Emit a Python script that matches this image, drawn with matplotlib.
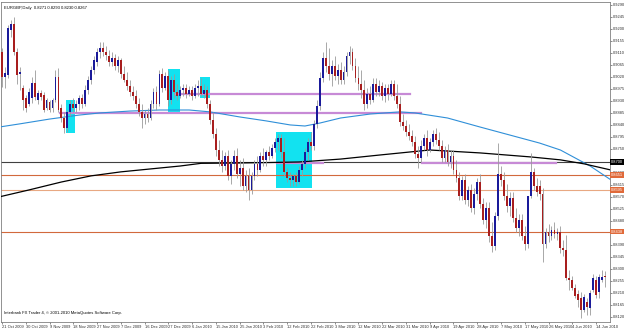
import matplotlib
matplotlib.use('Agg')
import matplotlib.pyplot as plt
import numpy as np

# EURGBP daily candles, 21 Oct 2009 .. 17 Jun 2010
opens = [
    0.9113, 0.9019, 0.9026, 0.9195, 0.9218, 0.9113, 0.9030, 0.8978, 0.8940, 0.8918,
    0.8940, 0.8996, 0.8933, 0.8959, 0.8951, 0.8903, 0.8925, 0.8903, 0.8933, 0.9019,
    0.8903, 0.8865, 0.8828, 0.8888, 0.8918, 0.8903, 0.8918, 0.8940, 0.8918, 0.8970,
    0.9008, 0.9045, 0.9075, 0.9113, 0.9128, 0.9113, 0.9098, 0.9075, 0.9090, 0.9060,
    0.9083, 0.9030, 0.9008, 0.8985, 0.8963, 0.8948, 0.8918, 0.8888, 0.8865, 0.8880,
    0.8865, 0.8918, 0.8963, 0.8918, 0.9030, 0.8978, 0.9023, 0.8933, 0.9008, 0.8963,
    0.8948, 0.8970, 0.8978, 0.8955, 0.8970, 0.8948, 0.8978, 0.8985, 0.8955, 0.8970,
    0.8918, 0.8858, 0.8805, 0.8745, 0.8708, 0.8685, 0.8723, 0.8648, 0.8693, 0.8723,
    0.8655, 0.8678, 0.8610, 0.8648, 0.8595, 0.8648, 0.8693, 0.8670, 0.8723, 0.8708,
    0.8738, 0.8723, 0.8753, 0.8775, 0.8790, 0.8738, 0.8663, 0.8640, 0.8633, 0.8648,
    0.8625, 0.8670, 0.8693, 0.8738, 0.8775, 0.8760, 0.8843, 0.8910, 0.9015, 0.9090,
    0.9060, 0.9030, 0.9060, 0.9023, 0.9045, 0.9008, 0.9038, 0.9098, 0.9113, 0.9060,
    0.9015, 0.8993, 0.8970, 0.8918, 0.8955, 0.8933, 0.8993, 0.8963, 0.8985, 0.8948,
    0.8978, 0.8955, 0.8993, 0.8948, 0.8918, 0.8850, 0.8835, 0.8813, 0.8798, 0.8775,
    0.8730, 0.8715, 0.8760, 0.8790, 0.8745, 0.8775, 0.8805, 0.8783, 0.8760, 0.8715,
    0.8745, 0.8700, 0.8723, 0.8670, 0.8640, 0.8573, 0.8633, 0.8558, 0.8595, 0.8528,
    0.8580, 0.8625, 0.8543, 0.8483, 0.8528, 0.8423, 0.8385, 0.8498, 0.8655, 0.8633,
    0.8573, 0.8535, 0.8565, 0.8490, 0.8453, 0.8483, 0.8423, 0.8393, 0.8573, 0.8663,
    0.8610, 0.8610, 0.8580, 0.8393, 0.8438, 0.8423, 0.8445, 0.8430, 0.8438, 0.8378,
    0.8370, 0.8265, 0.8258, 0.8228, 0.8205, 0.8190, 0.8145, 0.8175, 0.8153, 0.8220,
    0.8258, 0.8213, 0.8258, 0.8271]
highs = [
    0.9128, 0.9056, 0.9214, 0.9233, 0.9244, 0.9128, 0.9056, 0.8989, 0.8951, 0.8978,
    0.9019, 0.9045, 0.8970, 0.8970, 0.8963, 0.8940, 0.8933, 0.8940, 0.9045, 0.9053,
    0.8918, 0.8888, 0.8895, 0.8933, 0.8940, 0.8933, 0.8951, 0.8955, 0.8989, 0.9023,
    0.9060, 0.9098, 0.9128, 0.9150, 0.9150, 0.9135, 0.9120, 0.9113, 0.9105, 0.9098,
    0.9090, 0.9060, 0.9038, 0.9008, 0.8985, 0.8970, 0.8940, 0.8918, 0.8895, 0.8903,
    0.8933, 0.8978, 0.8985, 0.9045, 0.9053, 0.9038, 0.9045, 0.9023, 0.9030, 0.8993,
    0.8985, 0.8993, 0.8993, 0.8985, 0.8985, 0.8993, 0.9008, 0.9015, 0.8993, 0.8985,
    0.8933, 0.8888, 0.8828, 0.8783, 0.8745, 0.8738, 0.8745, 0.8708, 0.8745, 0.8753,
    0.8708, 0.8715, 0.8670, 0.8678, 0.8663, 0.8708, 0.8723, 0.8738, 0.8753, 0.8745,
    0.8760, 0.8768, 0.8790, 0.8805, 0.8805, 0.8790, 0.8678, 0.8663, 0.8655, 0.8663,
    0.8685, 0.8708, 0.8753, 0.8790, 0.8813, 0.8858, 0.8933, 0.9038, 0.9113, 0.9150,
    0.9128, 0.9083, 0.9098, 0.9068, 0.9075, 0.9060, 0.9113, 0.9135, 0.9128, 0.9090,
    0.9060, 0.9045, 0.9008, 0.8978, 0.8985, 0.9015, 0.9015, 0.9008, 0.9000, 0.8993,
    0.8993, 0.9008, 0.9008, 0.8993, 0.8948, 0.8880, 0.8858, 0.8843, 0.8820, 0.8798,
    0.8760, 0.8783, 0.8805, 0.8820, 0.8790, 0.8820, 0.8828, 0.8813, 0.8783, 0.8760,
    0.8768, 0.8745, 0.8745, 0.8708, 0.8663, 0.8648, 0.8655, 0.8610, 0.8618, 0.8603,
    0.8640, 0.8655, 0.8565, 0.8550, 0.8550, 0.8475, 0.8513, 0.8771, 0.8685, 0.8663,
    0.8618, 0.8588, 0.8588, 0.8528, 0.8505, 0.8505, 0.8460, 0.8475, 0.8734, 0.8678,
    0.8640, 0.8633, 0.8603, 0.8453, 0.8468, 0.8460, 0.8475, 0.8453, 0.8460, 0.8408,
    0.8426, 0.8295, 0.8273, 0.8243, 0.8220, 0.8213, 0.8205, 0.8190, 0.8220, 0.8280,
    0.8273, 0.8280, 0.8295, 0.8293]
lows = [
    0.8981, 0.8978, 0.9015, 0.9169, 0.9101, 0.8993, 0.8970, 0.8895, 0.8888, 0.8910,
    0.8921, 0.8933, 0.8918, 0.8933, 0.8888, 0.8895, 0.8888, 0.8888, 0.8925, 0.8888,
    0.8850, 0.8809, 0.8813, 0.8873, 0.8888, 0.8888, 0.8895, 0.8903, 0.8910, 0.8955,
    0.8993, 0.9030, 0.9060, 0.9090, 0.9098, 0.9083, 0.9060, 0.9060, 0.9045, 0.9038,
    0.9015, 0.9000, 0.8970, 0.8948, 0.8933, 0.8903, 0.8873, 0.8828, 0.8843, 0.8850,
    0.8858, 0.8903, 0.8895, 0.8910, 0.8963, 0.8970, 0.8910, 0.8918, 0.8940, 0.8933,
    0.8940, 0.8948, 0.8940, 0.8948, 0.8933, 0.8940, 0.8948, 0.8948, 0.8940, 0.8903,
    0.8843, 0.8790, 0.8723, 0.8685, 0.8663, 0.8670, 0.8633, 0.8618, 0.8670, 0.8640,
    0.8610, 0.8595, 0.8588, 0.8558, 0.8580, 0.8633, 0.8648, 0.8663, 0.8685, 0.8685,
    0.8708, 0.8715, 0.8738, 0.8745, 0.8715, 0.8648, 0.8625, 0.8610, 0.8610, 0.8610,
    0.8618, 0.8648, 0.8678, 0.8708, 0.8745, 0.8745, 0.8828, 0.8895, 0.9000, 0.9038,
    0.9008, 0.8985, 0.9008, 0.8993, 0.8993, 0.8993, 0.9023, 0.9068, 0.9045, 0.9000,
    0.8970, 0.8940, 0.8895, 0.8903, 0.8918, 0.8925, 0.8948, 0.8948, 0.8933, 0.8925,
    0.8933, 0.8948, 0.8933, 0.8903, 0.8835, 0.8820, 0.8798, 0.8783, 0.8760, 0.8715,
    0.8678, 0.8700, 0.8745, 0.8723, 0.8738, 0.8760, 0.8768, 0.8745, 0.8700, 0.8700,
    0.8685, 0.8678, 0.8655, 0.8625, 0.8558, 0.8558, 0.8543, 0.8535, 0.8513, 0.8505,
    0.8558, 0.8528, 0.8468, 0.8453, 0.8400, 0.8363, 0.8370, 0.8483, 0.8610, 0.8558,
    0.8513, 0.8498, 0.8475, 0.8438, 0.8423, 0.8408, 0.8370, 0.8378, 0.8565, 0.8595,
    0.8573, 0.8558, 0.8325, 0.8378, 0.8400, 0.8408, 0.8415, 0.8408, 0.8359, 0.8348,
    0.8258, 0.8220, 0.8220, 0.8190, 0.8156, 0.8115, 0.8138, 0.8126, 0.8126, 0.8213,
    0.8190, 0.8190, 0.8250, 0.8230]
closes = [
    0.9019, 0.9034, 0.9203, 0.9218, 0.9113, 0.9026, 0.9038, 0.8933, 0.8903, 0.8963,
    0.8996, 0.8944, 0.8959, 0.8944, 0.8895, 0.8933, 0.8895, 0.8933, 0.9019, 0.8895,
    0.8865, 0.8828, 0.8888, 0.8918, 0.8903, 0.8918, 0.8940, 0.8918, 0.8970, 0.9008,
    0.9045, 0.9083, 0.9113, 0.9128, 0.9113, 0.9101, 0.9075, 0.9090, 0.9060, 0.9083,
    0.9030, 0.9008, 0.8985, 0.8963, 0.8948, 0.8918, 0.8888, 0.8865, 0.8880, 0.8865,
    0.8918, 0.8963, 0.8918, 0.9030, 0.8978, 0.9023, 0.8933, 0.9008, 0.8963, 0.8948,
    0.8970, 0.8978, 0.8955, 0.8970, 0.8948, 0.8978, 0.8985, 0.8955, 0.8970, 0.8918,
    0.8858, 0.8805, 0.8745, 0.8708, 0.8685, 0.8723, 0.8648, 0.8693, 0.8723, 0.8655,
    0.8678, 0.8610, 0.8648, 0.8595, 0.8648, 0.8693, 0.8670, 0.8723, 0.8708, 0.8738,
    0.8723, 0.8753, 0.8775, 0.8790, 0.8738, 0.8663, 0.8640, 0.8633, 0.8648, 0.8625,
    0.8670, 0.8693, 0.8738, 0.8775, 0.8760, 0.8843, 0.8910, 0.9015, 0.9090, 0.9060,
    0.9030, 0.9060, 0.9023, 0.9045, 0.9008, 0.9038, 0.9098, 0.9113, 0.9060, 0.9015,
    0.8993, 0.8970, 0.8918, 0.8955, 0.8933, 0.8993, 0.8963, 0.8985, 0.8948, 0.8978,
    0.8955, 0.8993, 0.8948, 0.8918, 0.8850, 0.8835, 0.8813, 0.8798, 0.8775, 0.8730,
    0.8715, 0.8760, 0.8790, 0.8745, 0.8775, 0.8805, 0.8783, 0.8760, 0.8715, 0.8745,
    0.8700, 0.8723, 0.8670, 0.8640, 0.8573, 0.8633, 0.8558, 0.8595, 0.8528, 0.8580,
    0.8625, 0.8543, 0.8483, 0.8528, 0.8423, 0.8385, 0.8498, 0.8655, 0.8633, 0.8573,
    0.8535, 0.8565, 0.8490, 0.8453, 0.8483, 0.8423, 0.8393, 0.8573, 0.8663, 0.8610,
    0.8588, 0.8580, 0.8393, 0.8438, 0.8423, 0.8445, 0.8430, 0.8438, 0.8378, 0.8370,
    0.8265, 0.8258, 0.8228, 0.8198, 0.8183, 0.8145, 0.8194, 0.8156, 0.8209, 0.8265,
    0.8201, 0.8269, 0.8269, 0.8267]

date_labels = ['21 Oct 2009', '30 Oct 2009', '9 Nov 2009', '18 Nov 2009', '27 Nov 2009',
               '7 Dec 2009', '16 Dec 2009', '27 Dec 2009', '6 Jan 2010', '15 Jan 2010',
               '25 Jan 2010', '3 Feb 2010', '12 Feb 2010', '22 Feb 2010', '3 Mar 2010',
               '12 Mar 2010', '22 Mar 2010', '31 Mar 2010', '9 Apr 2010', '19 Apr 2010',
               '28 Apr 2010', '7 May 2010', '17 May 2010', '26 May 2010', '4 Jun 2010',
               '14 Jun 2010']
date_bars = list(range(0, 201, 8))

price_ticks = [0.9290, 0.9245, 0.9200, 0.9155, 0.9110, 0.9065, 0.9020, 0.8975, 0.8930,
               0.8885, 0.8840, 0.8795, 0.8750, 0.8660, 0.8615, 0.8570, 0.8525,
               0.8480, 0.8390, 0.8345, 0.8300, 0.8255, 0.8210, 0.8165, 0.8120]

ma_fast_bar = [-1, 6, 16, 26, 33, 43, 53, 63, 70, 80, 89, 97, 102, 107, 114, 124, 134,
               139, 150, 161, 172, 181, 188, 193, 198, 205]
ma_fast_val = [0.8831, 0.8843, 0.8861, 0.8876, 0.8884, 0.8891, 0.8895, 0.8895, 0.8888,
               0.8869, 0.8854, 0.8839, 0.8835, 0.8846, 0.8865, 0.8880, 0.8888, 0.8884,
               0.8865, 0.8831, 0.8798, 0.8771, 0.8745, 0.8715, 0.8685, 0.8633]
ma_slow_bar = [-1, 9, 20, 30, 40, 50, 60, 67, 78, 90, 100, 114, 127, 144, 161, 178, 188,
               196, 205]
ma_slow_val = [0.8569, 0.8595, 0.8625, 0.8648, 0.8663, 0.8674, 0.8685, 0.8695, 0.8696,
               0.8698, 0.8700, 0.8711, 0.8726, 0.8745, 0.8734, 0.8719, 0.8708, 0.8693,
               0.8670]

# horizontal levels: price, line colour, label box colour
levels = [(0.8700, '#404040', '#000000'), (0.8651, '#d2693c', '#e06a3a'),
          (0.8595, '#e8a882', '#e06a3a'), (0.8438, '#d2693c', '#e06a3a')]

# magenta lines: price, start bar, end bar
pink_lines = [(0.8955, 58.6, 137.4), (0.8884, 19.5, 141.0),
              (0.8698, 92.6, 108.0), (0.8698, 141.4, 186.5)]

# cyan zones: bar from, bar to, price low, price high
zones = [(21.5, 24.6, 0.8809, 0.8933), (55.9, 59.9, 0.8884, 0.9049),
         (66.7, 70.0, 0.8940, 0.9019), (92.3, 104.4, 0.8603, 0.8813)]

fig = plt.figure(figsize=(6.25, 3.34), dpi=100)
ax = fig.add_axes([1 / 625, 12 / 334, 609 / 625, 320 / 334])
ax.set_xlim(-0.34, 204.7)
ax.set_ylim(0.8100, 0.9300)

for x0, x1, lo, hi in zones:
    ax.fill_between([x0, x1], lo, hi, color='#12e2f0', lw=0, zorder=1)

for p, c, _ in levels:
    ax.axhline(p, color=c, lw=0.8, zorder=2)

for p, b0, b1 in pink_lines:
    ax.plot([b0, b1], [p, p], color='#c78ad6', lw=1.6, zorder=2.5)

ax.plot(ma_fast_bar, ma_fast_val, color='#2f8fd8', lw=0.8, zorder=3)
ax.plot(ma_slow_bar, ma_slow_val, color='#000000', lw=0.9, zorder=3)

idx = np.arange(len(closes))
ax.vlines(idx, lows, highs, color='#9a9a9a', lw=0.6, zorder=4)
for i, (o, c) in enumerate(zip(opens, closes)):
    col = '#1a1a9a' if c >= o else '#a81e1e'
    h = abs(c - o)
    ax.bar(i, max(h, 0.0002), bottom=min(o, c), width=0.62, color=col, lw=0, zorder=5)

ax.yaxis.tick_right()
ax.set_yticks(price_ticks)
ax.set_yticklabels([f'{v:.4f}' for v in price_ticks])
ax.set_xticks(date_bars)
ax.set_xticklabels(date_labels)
for lab in ax.get_xticklabels():
    lab.set_horizontalalignment('left')
ax.tick_params(axis='both', labelsize=2.9, length=1.5, width=0.4, pad=0.8,
               colors='#303030', labelfontfamily='Liberation Sans')
for s in ax.spines.values():
    s.set_color('#808080')
    s.set_linewidth(0.6)

for p, _, c in levels:
    ax.text(1.0015, p, f'{p:.4f}', transform=ax.get_yaxis_transform(), fontsize=2.9,
            color='white', va='center', ha='left', family='Liberation Sans', zorder=10,
            bbox=dict(boxstyle='square,pad=0.15', facecolor=c, edgecolor='none'))

ax.text(0.005, 0.988, 'EURGBP,Daily  0.8271 0.8293 0.8230 0.8267',
        transform=ax.transAxes, fontsize=3.0, va='top', ha='left', family='Liberation Sans')
ax.text(0.005, 0.022, 'Interbank FX Trader 4, \u00a9 2001-2010 MetaQuotes Software Corp.',
        transform=ax.transAxes, fontsize=3.0, va='bottom', ha='left', family='Liberation Sans')

fig.savefig('out.png', dpi=100)
